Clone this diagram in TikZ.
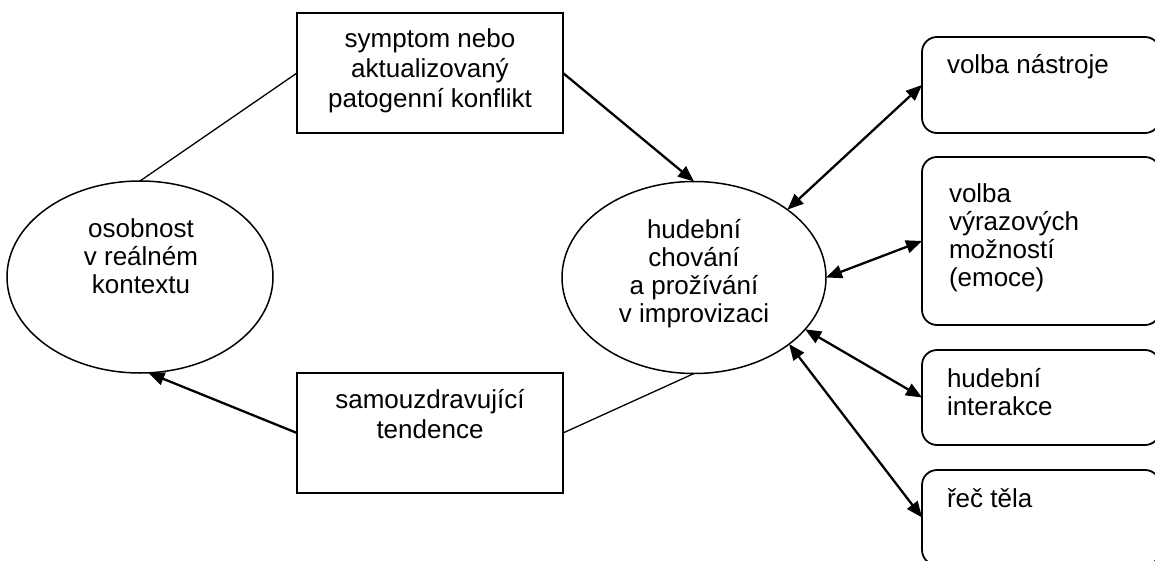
\documentclass[tikz,border=0pt]{standalone}
\usepackage{fontspec}
\setmainfont{Liberation Sans}
\usetikzlibrary{shapes.geometric,arrows.meta}
\begin{document}
\begin{tikzpicture}[x=1pt,y=-1pt,
  every node/.style={font=\fontsize{26}{28}\selectfont, inner sep=0pt, outer sep=0pt},
  oval/.style={draw, ellipse, line width=1.5pt, minimum width=266pt, minimum height=192pt},
  plainbox/.style={draw, rectangle, line width=1.8pt, minimum width=266pt, minimum height=120pt},
  sidebox/.style={draw, rectangle, rounded corners=15pt, line width=1.8pt, minimum width=238pt},
  boxtext/.style={align=center, font=\fontsize{26}{30}\selectfont},
  ovaltext/.style={align=center},
  sidetext/.style={align=left, anchor=west},
  link/.style={line width=1.3pt},
  flow/.style={line width=2.3pt, -{Triangle[length=16pt,width=13pt]}},
  twoway/.style={line width=2.3pt, {Triangle[length=16pt,width=13pt]}-{Triangle[length=16pt,width=13pt]}},
]
\useasboundingbox (0,0) rectangle (1155,561);
\clip (0,0) rectangle (1155,561);

% main shapes
\node[oval] (pers) at (140,277) {};
\node[oval, minimum width=264pt] (hub) at (694,277.5) {};
\node[plainbox] (top) at (430,73) {};
\node[plainbox] (bot) at (430,433) {};

% side boxes (running past the right edge)
\node[sidebox, minimum height=96pt]  (b1) at (1041,85) {};
\node[sidebox, minimum height=168pt] (b2) at (1041,241) {};
\node[sidebox, minimum height=95pt]  (b3) at (1041,397.5) {};
\node[sidebox, minimum height=95pt]  (b4) at (1041,517.5) {};

% texts
\node[ovaltext] (perst) at (141,260) {osobnost\strut\\v reálném\strut\\kontextu\strut};
\node[ovaltext] (hubt) at (694,275) {hudební\strut\\chování\strut\\a prožívání\strut\\v improvizaci\strut};
\node[boxtext] (topt) at (430,72) {symptom nebo\strut\\aktualizovaný\strut\\patogenní konflikt\strut};
\node[boxtext] (bott) at (430,417) {samouzdravující\strut\\tendence\strut};
\node[sidetext] (b1t) at (947,68) {volba nástroje\strut};
\node[sidetext] (b2t) at (949,239) {volba\strut\\výrazových\strut\\možností\strut\\(emoce)\strut};
\node[sidetext] (b3t) at (947,396) {hudební\strut\\interakce\strut};
\node[sidetext] (b4t) at (947,502) {řeč těla\strut};

% connectors
\draw[link] (pers.north) -- (top.west);
\draw[flow] (top.east) -- (hub.north);
\draw[flow] (bot.west) -- (pers.-85);
\draw[link] (bot.east) -- (hub.south);
\draw[twoway] (hub.36.5) -- (b1.west);
\draw[twoway] (hub.east) -- (b2.west);
\draw[twoway] (hub.-25) -- (b3.west);
\draw[twoway] (hub.-35) -- (b4.west);
\end{tikzpicture}
\end{document}
